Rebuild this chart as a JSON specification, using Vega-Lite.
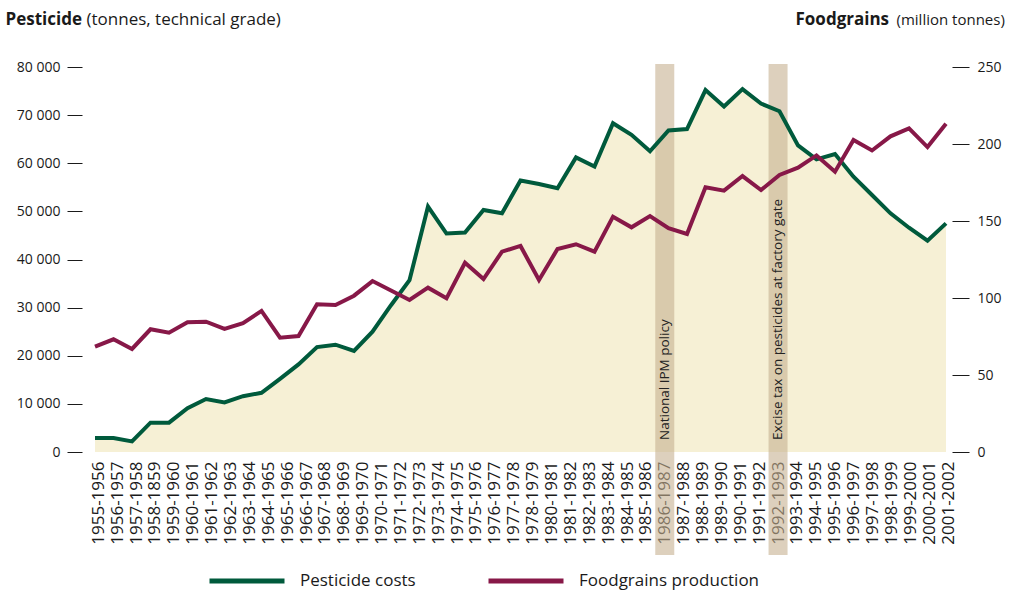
{
  "$schema": "https://vega.github.io/schema/vega-lite/v6.json",
  "width": 870,
  "height": 385,
  "autosize": {"type": "none"},
  "padding": {"left": 82, "top": 67, "right": 57, "bottom": 140},
  "config": {
    "font": "Open Sans",
    "view": {"stroke": null},
    "axis": {"grid": false, "domain": false, "labelColor": "#1a1a1a", "tickColor": "#1a1a1a", "titleColor": "#1a1a1a", "titleLimit": 400},
    "legend": {"padding": 0}
  },
  "datasets": {
    "main": [
      {"year": "1955-1956", "pesticide": 2900, "foodgrains": 68.4},
      {"year": "1956-1957", "pesticide": 2900, "foodgrains": 73.2},
      {"year": "1957-1958", "pesticide": 2200, "foodgrains": 66.9},
      {"year": "1958-1959", "pesticide": 6100, "foodgrains": 79.7},
      {"year": "1959-1960", "pesticide": 6100, "foodgrains": 77.5},
      {"year": "1960-1961", "pesticide": 9100, "foodgrains": 84.2},
      {"year": "1961-1962", "pesticide": 11000, "foodgrains": 84.6},
      {"year": "1962-1963", "pesticide": 10300, "foodgrains": 79.9},
      {"year": "1963-1964", "pesticide": 11600, "foodgrains": 83.6},
      {"year": "1964-1965", "pesticide": 12300, "foodgrains": 91.6},
      {"year": "1965-1966", "pesticide": 15200, "foodgrains": 74.2},
      {"year": "1966-1967", "pesticide": 18200, "foodgrains": 75.3},
      {"year": "1967-1968", "pesticide": 21800, "foodgrains": 95.9},
      {"year": "1968-1969", "pesticide": 22300, "foodgrains": 95.4},
      {"year": "1969-1970", "pesticide": 21000, "foodgrains": 101.5},
      {"year": "1970-1971", "pesticide": 25000, "foodgrains": 111.0},
      {"year": "1971-1972", "pesticide": 30500, "foodgrains": 104.9},
      {"year": "1972-1973", "pesticide": 35700, "foodgrains": 98.7},
      {"year": "1973-1974", "pesticide": 51000, "foodgrains": 106.7},
      {"year": "1974-1975", "pesticide": 45400, "foodgrains": 99.8},
      {"year": "1975-1976", "pesticide": 45600, "foodgrains": 122.9},
      {"year": "1976-1977", "pesticide": 50300, "foodgrains": 112.3},
      {"year": "1977-1978", "pesticide": 49600, "foodgrains": 130.1},
      {"year": "1978-1979", "pesticide": 56400, "foodgrains": 133.8},
      {"year": "1979-1980", "pesticide": 55700, "foodgrains": 111.7},
      {"year": "1980-1981", "pesticide": 54800, "foodgrains": 131.8},
      {"year": "1981-1982", "pesticide": 61200, "foodgrains": 134.9},
      {"year": "1982-1983", "pesticide": 59300, "foodgrains": 130.1},
      {"year": "1983-1984", "pesticide": 68300, "foodgrains": 152.8},
      {"year": "1984-1985", "pesticide": 65900, "foodgrains": 145.9},
      {"year": "1985-1986", "pesticide": 62500, "foodgrains": 153.2},
      {"year": "1986-1987", "pesticide": 66800, "foodgrains": 145.3},
      {"year": "1987-1988", "pesticide": 67100, "foodgrains": 141.6},
      {"year": "1988-1989", "pesticide": 75200, "foodgrains": 171.9},
      {"year": "1989-1990", "pesticide": 71800, "foodgrains": 169.7},
      {"year": "1990-1991", "pesticide": 75400, "foodgrains": 179.2},
      {"year": "1991-1992", "pesticide": 72400, "foodgrains": 170.1},
      {"year": "1992-1993", "pesticide": 70800, "foodgrains": 179.9},
      {"year": "1993-1994", "pesticide": 63700, "foodgrains": 184.6},
      {"year": "1994-1995", "pesticide": 60800, "foodgrains": 192.6},
      {"year": "1995-1996", "pesticide": 61900, "foodgrains": 182.0},
      {"year": "1996-1997", "pesticide": 57200, "foodgrains": 202.6},
      {"year": "1997-1998", "pesticide": 53400, "foodgrains": 195.8},
      {"year": "1998-1999", "pesticide": 49600, "foodgrains": 205.0},
      {"year": "1999-2000", "pesticide": 46600, "foodgrains": 210.2},
      {"year": "2000-2001", "pesticide": 43900, "foodgrains": 198.0},
      {"year": "2001-2002", "pesticide": 47500, "foodgrains": 213.2}
    ],
    "bands": [
      {"label": "1986-1987", "note": "National IPM policy"},
      {"label": "1992-1993", "note": "Excise tax on pesticides at factory gate"}
    ]
  },
  "layer": [
    {
      "data": {"name": "main"},
      "mark": {"type": "area", "color": "#f6f0d5"},
      "encoding": {
        "x": {"field": "year", "type": "ordinal", "sort": null, "scale": {"type": "point", "range": [13, 864], "padding": 0}, "axis": null},
        "y": {
          "field": "pesticide", "type": "quantitative",
          "scale": {"domain": [0, 80000], "nice": false, "zero": true},
          "axis": {
            "orient": "left",
            "values": [0, 10000, 20000, 30000, 40000, 50000, 60000, 70000, 80000],
            "labelExpr": "replace(format(datum.value, ','), ',', ' ')",
            "tickSize": 15, "labelPadding": 7, "labelFontSize": 14,
            "title": "Pesticide", "titleFontWeight": "bold", "titleFontSize": 17,
            "titleAngle": 0, "titleAlign": "left", "titleBaseline": "alphabetic",
            "titleX": -77, "titleY": -43
          }
        }
      }
    },
    {
      "data": {"name": "bands"},
      "layer": [
        {
          "mark": {"type": "rule", "color": "#c6b191", "opacity": 0.6, "strokeWidth": 19, "yOffset": -3, "y2Offset": 103},
          "encoding": {
            "y": {
              "datum": 80000, "type": "quantitative",
              "scale": {"domain": [0, 80000], "nice": false},
              "axis": {"orient": "right", "labels": false, "ticks": false, "title": "(million tonnes)", "titleFontWeight": "normal", "titleFontSize": 15, "titleAngle": 0, "titleAlign": "left", "titleBaseline": "alphabetic", "titleX": -56, "titleY": -43}
            },
            "y2": {"datum": 0}
          }
        },
        {
          "mark": {"type": "text", "angle": 270, "align": "left", "baseline": "middle", "dx": 12, "fontSize": 13.5, "color": "#222222"},
          "encoding": {
            "y": {"datum": 0, "type": "quantitative"},
            "text": {"field": "note"}
          }
        }
      ],
      "encoding": {
        "x": {
          "field": "label", "type": "ordinal",
          "scale": {
            "type": "point", "range": [16.3, 866], "padding": 0,
            "domain": ["1955-1956", "1956-1957", "1957-1958", "1958-1859", "1959-1960", "1960-1961", "1961-1962", "1962-1963", "1963-1964", "1964-1965", "1965-1966", "1966-1967", "1967-1968", "1968-1969", "1969-1970", "1970-1971", "1971-1972", "1972-1973", "1973-1974", "1974-1975", "1975-1976", "1976-1977", "1977-1978", "1978-1979", "1980-1981", "1981-1982", "1982-1983", "1983-1984", "1984-1985", "1985-1986", "1986-1987", "1987-1988", "1988-1989", "1989-1990", "1990-1991", "1991-1992", "1992-1993", "1993-1994", "1994-1995", "1995-1996", "1996-1997", "1997-1998", "1998-1999", "1999-2000", "2000-2001", "2001-2002"]
          },
          "axis": {"title": null, "labelAngle": -90, "ticks": false, "labelPadding": 9, "labelFontSize": 17, "labelAlign": "right", "labelBaseline": "middle"}
        }
      }
    },
    {
      "data": {"name": "main"},
      "mark": {"type": "line", "strokeWidth": 4},
      "encoding": {
        "x": {"field": "year", "type": "ordinal", "sort": null, "scale": {"type": "point", "range": [13, 864], "padding": 0}, "axis": null},
        "y": {
          "field": "pesticide", "type": "quantitative",
          "scale": {"domain": [0, 80000], "nice": false},
          "axis": {"orient": "left", "labels": false, "ticks": false, "title": "(tonnes, technical grade)", "titleFontWeight": "normal", "titleFontSize": 17, "titleAngle": 0, "titleAlign": "left", "titleBaseline": "alphabetic", "titleX": 4, "titleY": -43}
        },
        "color": {
          "datum": "Pesticide costs",
          "scale": {"domain": ["Pesticide costs", "Foodgrains production"], "range": ["#005a3c", "#871848"]},
          "legend": {
            "title": null, "orient": "none", "legendX": 125, "legendY": 474, "direction": "horizontal",
            "symbolType": "stroke", "symbolSize": 5625, "symbolStrokeWidth": 5,
            "labelFontSize": 17, "labelColor": "#1a1a1a", "labelOffset": 13, "columnPadding": 62, "labelLimit": 400
          }
        }
      }
    },
    {
      "data": {"name": "main"},
      "mark": {"type": "line", "strokeWidth": 4},
      "encoding": {
        "x": {"field": "year", "type": "ordinal", "sort": null, "scale": {"type": "point", "range": [13, 864], "padding": 0}, "axis": null},
        "y": {
          "field": "foodgrains", "type": "quantitative",
          "scale": {"domain": [0, 250], "nice": false},
          "axis": {
            "orient": "right", "values": [0, 50, 100, 150, 200, 250],
            "tickSize": 17, "labelPadding": 8, "labelFontSize": 14,
            "title": "Foodgrains", "titleFontWeight": "bold", "titleFontSize": 17,
            "titleAngle": 0, "titleAlign": "left", "titleBaseline": "alphabetic",
            "titleX": -157, "titleY": -43
          }
        },
        "color": {"datum": "Foodgrains production"}
      }
    }
  ],
  "resolve": {"scale": {"x": "independent", "y": "independent"}}
}
